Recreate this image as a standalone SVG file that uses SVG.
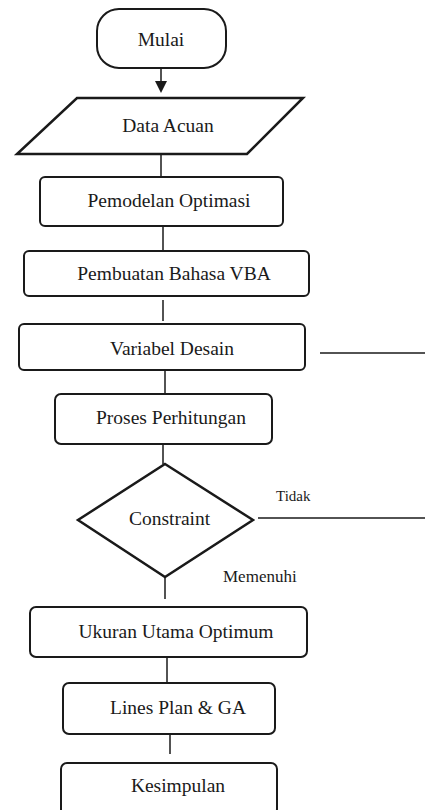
<svg xmlns="http://www.w3.org/2000/svg" width="425" height="810" viewBox="0 0 425 810">
<style>
.box{fill:#fff;stroke:#1a1a1a;stroke-width:2}
.shape{fill:#fff;stroke:#1a1a1a;stroke-width:2.5}
text{font-family:'Liberation Serif','Times New Roman',serif;fill:#1a1a1a}
.t{font-size:19.5px;text-anchor:middle}
.ln{stroke:#1a1a1a;stroke-width:1.5;fill:none}
</style>
<rect width="425" height="810" fill="#fff"/>
<g id="connectors">
<line class="ln" x1="161" y1="68" x2="161" y2="83"/>
<polygon points="155,81 167,81 161,93" fill="#1a1a1a"/>
<line class="ln" x1="161" y1="154" x2="161" y2="177"/>
<line class="ln" x1="163" y1="226" x2="163" y2="251"/>
<line class="ln" x1="163" y1="300" x2="163" y2="321"/>
<line class="ln" x1="165" y1="370" x2="165" y2="394"/>
<line class="ln" x1="163" y1="444" x2="163" y2="464"/>
<line class="ln" x1="165" y1="577" x2="165" y2="599"/>
<line class="ln" x1="167" y1="657" x2="167" y2="683"/>
<line class="ln" x1="170" y1="732" x2="170" y2="754"/>
<line class="ln" x1="258" y1="518" x2="425" y2="518"/>
<line class="ln" x1="320" y1="353" x2="425" y2="353"/>
<text x="276" y="500.5" font-size="15">Tidak</text>
<text x="223" y="582" font-size="17">Memenuhi</text>
</g>
<g id="mulai">
<rect class="box" x="97" y="9" width="129" height="59" rx="22"/>
<text class="t" x="161" y="46">Mulai</text>
</g>
<g id="data-acuan">
<polygon class="shape" points="77,98 303,98 247,154 17,154"/>
<text class="t" x="168" y="132">Data Acuan</text>
</g>
<g id="pemodelan-optimasi">
<rect class="box" x="40" y="177" width="243" height="49" rx="5"/>
<text class="t" x="169" y="207">Pemodelan Optimasi</text>
</g>
<g id="pembuatan-bahasa-vba">
<rect class="box" x="24" y="251" width="285" height="45" rx="5"/>
<text class="t" x="174" y="280">Pembuatan Bahasa VBA</text>
</g>
<g id="variabel-desain">
<rect class="box" x="19" y="324" width="286" height="46" rx="5"/>
<text class="t" x="172" y="355">Variabel Desain</text>
</g>
<g id="proses-perhitungan">
<rect class="box" x="55" y="394" width="217" height="50" rx="6"/>
<text class="t" x="171" y="424">Proses Perhitungan</text>
</g>
<g id="constraint">
<polygon class="shape" points="165,464 253,520 165,577 78,520"/>
<text class="t" x="169.5" y="525">Constraint</text>
</g>
<g id="ukuran-utama-optimum">
<rect class="box" x="30" y="607" width="277" height="50" rx="6"/>
<text class="t" x="176" y="638">Ukuran Utama Optimum</text>
</g>
<g id="lines-plan-ga">
<rect class="box" x="63" y="683" width="212" height="51" rx="6"/>
<text class="t" x="178" y="714">Lines Plan &amp; GA</text>
</g>
<g id="kesimpulan">
<rect class="box" x="61" y="763" width="216" height="52" rx="6"/>
<text class="t" x="178" y="792">Kesimpulan</text>
</g>
</svg>
